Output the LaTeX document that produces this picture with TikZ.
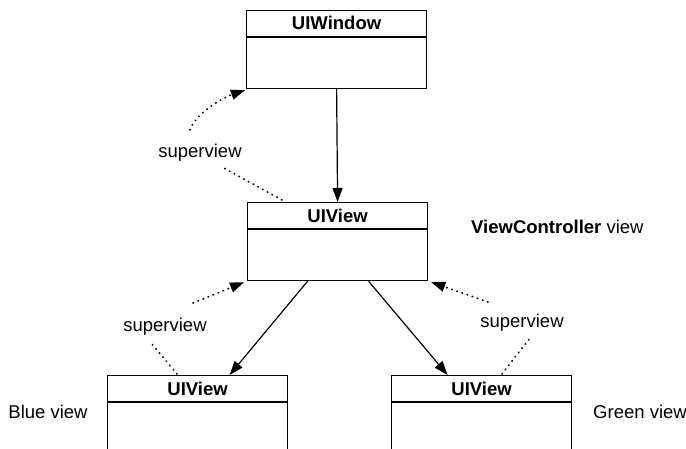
\documentclass[tikz,border=0pt]{standalone}
\usepackage{fontspec}
\setmainfont{Liberation Sans}
\usetikzlibrary{arrows.meta,calc}
\begin{document}
\begin{tikzpicture}[x=1pt,y=-1pt,
  box/.style={draw, line width=1.2pt, minimum width=180pt, minimum height=78pt, anchor=north west, inner sep=0pt},
  ttl/.style={font=\fontsize{18.5}{22}\selectfont\bfseries, anchor=base, inner sep=0pt},
  lbl/.style={font=\fontsize{18.5}{22}\selectfont, anchor=base, inner sep=0pt},
  arr/.style={line width=1.2pt, -{Triangle[length=14pt,width=10pt]}},
  dot/.style={line width=1.7pt, dash pattern=on 0.6pt off 4.8pt, line cap=round},
  dotarr/.style={dot, -{Triangle[length=14pt,width=10pt]}}
]
\clip (0,0) rectangle (686,449);
% boxes
\node[box] (win) at (246,10) {};
\node[box] (mid) at (247,202) {};
\node[box, minimum height=90pt] (blue) at (107,375) {};
\node[box, minimum height=90pt] (green) at (391,375) {};
% header lines
\foreach \b in {win,mid,blue,green}{
  \draw[line width=1.2pt] ($(\b.north west)+(0,27)$) -- ($(\b.north east)+(0,27)$);
}
% titles
\node[ttl] (twin) at ($(win.north)+(0,20)$) {UIWindow};
\node[ttl] (tmid) at ($(mid.north)+(0,20.5)$) {UIView};
\node[ttl] (tblue) at ($(blue.north)+(0,20.5)$) {UIView};
\node[ttl] (tgreen) at ($(green.north)+(0,20.5)$) {UIView};
% side labels
\node[lbl, anchor=base west] (vc) at (471,234) {\textbf{ViewController} view};
\node[lbl] (bv) at (48,418) {Blue view};
\node[lbl] (gv) at (640,418) {Green view};
% superview labels
\node[lbl] (sv1) at (200,158) {superview};
\node[lbl] (sv2) at (165,331) {superview};
\node[lbl] (sv3) at (522,327) {superview};
% solid arrows
\draw[arr] (win.south) -- (mid.north);
\draw[arr] ($(mid.south)+(-30,0)$) -- ($(blue.north)+(32,0)$);
\draw[arr] ($(mid.south)+(31,0)$) -- ($(green.north)+(-34,0)$);
% dotted superview links
\draw[dot] ($(mid.north west)+(35,-2)$) -- ($(sv1.base)+(22,9)$);
\draw[dotarr] ($(sv1.base)+(-10,-28)$) .. controls ($(sv1.base)+(-5,-44)$) and ($(sv1.base)+(22,-60)$) .. ($(win.south west)+(-1,1)$);
\draw[dot] ($(blue.north west)+(70,-1)$) -- ($(sv2.base)+(-13,13)$);
\draw[dotarr] ($(sv2.base)+(28,-28)$) -- ($(mid.south west)+(-3,1)$);
\draw[dot] ($(green.north west)+(111,-1)$) -- ($(sv3.base)+(8,11)$);
\draw[dotarr] ($(sv3.base)+(-34,-25)$) -- ($(mid.south east)+(3,1)$);
\end{tikzpicture}
\end{document}
